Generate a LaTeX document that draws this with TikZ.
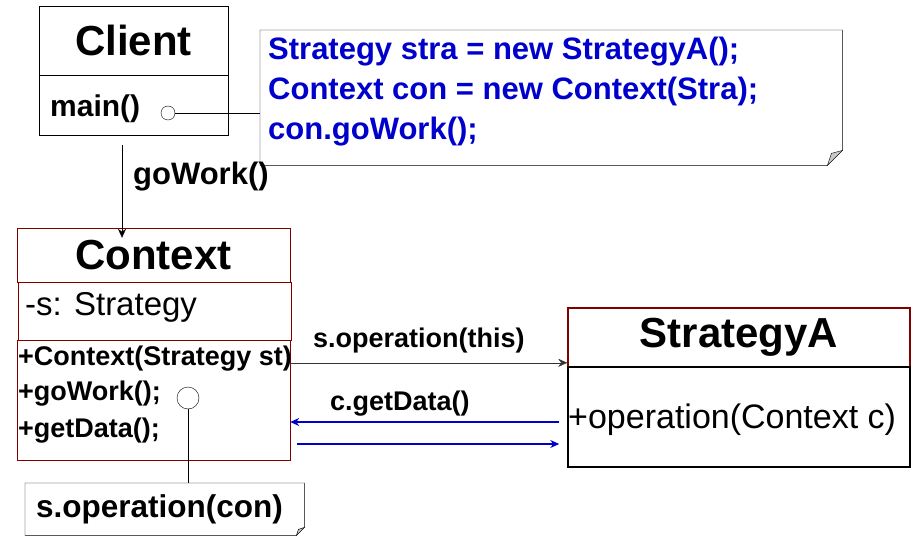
\documentclass[tikz,border=0pt]{standalone}
\usepackage{fontspec}
\setmainfont{Liberation Sans}
\usetikzlibrary{arrows.meta,positioning}
\definecolor{darkred}{RGB}{128,0,0}
\definecolor{codeblue}{RGB}{0,0,204}
\definecolor{foldgray}{RGB}{200,200,200}
\tikzset{
  umlbox/.style={draw,inner sep=0pt},
  titletxt/.style={font=\fontsize{42}{46}\selectfont\bfseries},
  membertxt/.style={anchor=base west,inner sep=0pt,font=\fontsize{27}{30}\selectfont\bfseries},
  codetxt/.style={anchor=base west,inner sep=0pt,text=codeblue,font=\fontsize{31}{34}\selectfont\bfseries},
  msgtxt/.style={anchor=base west,inner sep=0pt,font=\fontsize{27}{30}\selectfont\bfseries},
  notebox/.style={anchor=north west,inner sep=0pt},
  pin/.style={circle,draw,fill=white,inner sep=0pt}
}
\begin{document}
\begin{tikzpicture}[x=1pt,y=-1pt,>={Stealth[length=9pt,width=8pt]}]
  \useasboundingbox[fill=white] (0,0) rectangle (923,548);
  % Client
  \node[umlbox,titletxt,minimum width=189pt,minimum height=69pt] (client) at (133.5,40.5) {Client};
  \node[umlbox,minimum width=189pt,minimum height=60pt] (clientops) at (133.5,105) {};
  \node[membertxt,font=\fontsize{30}{32}\selectfont\bfseries] (main) at (50,117) {main()};
  \node[pin,minimum size=14pt] (mainpt) at (168,113) {};
  % code note
  \node[notebox,minimum width=582pt,minimum height=135pt] (code) at (260,30) {};
  \draw (code.north west) -- (code.north east) -- ([yshift=15pt]code.south east)
    -- ([xshift=-15pt]code.south east) -- (code.south west) -- cycle;
  \filldraw[fill=foldgray] ([yshift=15pt]code.south east) -- ([xshift=-15pt]code.south east)
    -- ([xshift=-11pt,yshift=12pt]code.south east) -- cycle;
  \node[codetxt] (code1) at (268,60) {Strategy stra = new StrategyA();};
  \node[codetxt] (code2) at (268,100) {Context con = new Context(Stra);};
  \node[codetxt] (code3) at (268,140) {con.goWork();};
  \draw (mainpt.east) -- (mainpt.east -| code.west);
  % Context
  \node[umlbox,titletxt,draw=darkred,minimum width=273pt,minimum height=54pt] (ctxname) at (153.5,255) {Context};
  \node[umlbox,draw=darkred,minimum width=273pt,minimum height=58pt] (ctxattr) at (154.5,311) {};
  \node[umlbox,draw=darkred,minimum width=273pt,minimum height=120pt] (ctxops) at (153.5,400) {};
  \node[membertxt,font=\fontsize{33}{36}\selectfont] (attr) at (25,315) {-s: Strategy};
  \node[membertxt] (m1) at (18,365) {+Context(Strategy st)};
  \node[membertxt] (m2) at (18,400) {+goWork();};
  \node[membertxt] (m3) at (18,437) {+getData();};
  \node[pin,minimum size=22pt] (ctxpt) at (188,398) {};
  \draw[->] ([xshift=-11.5pt,yshift=-10pt]clientops.south) -- ([xshift=-11.5pt,yshift=-10pt]clientops.south |- ctxname.north);
  \node[msgtxt,font=\fontsize{31}{34}\selectfont\bfseries] (gowork) at (133,185) {goWork()};
  % operation note
  \node[notebox,minimum width=279pt,minimum height=52pt] (opnote) at (25,483) {};
  \draw (opnote.north west) -- (opnote.north east) -- ([yshift=8pt]opnote.south east)
    -- ([xshift=-8pt]opnote.south east) -- (opnote.south west) -- cycle;
  \filldraw[fill=foldgray] ([yshift=8pt]opnote.south east) -- ([xshift=-8pt]opnote.south east)
    -- ([xshift=-6pt,yshift=6pt]opnote.south east) -- cycle;
  \node[msgtxt,font=\fontsize{31.5}{34}\selectfont\bfseries] (optxt) at (36,517) {s.operation(con)};
  \draw (ctxpt.south) -- (ctxpt.south |- opnote.north);
  % StrategyA
  \node[umlbox,titletxt,draw=darkred,line width=1.5pt,minimum width=342pt,minimum height=59pt] (saname) at (739,337.5) {StrategyA};
  \node[umlbox,line width=1.5pt,minimum width=342pt,minimum height=100pt] (saops) at (739,417) {};
  \node[membertxt,font=\fontsize{34}{36}\selectfont] (op) at (568,428) {+operation(Context c)};
  % messages
  \draw[->,black!80] ([yshift=-23pt]ctxops.north east) -- ([yshift=-23pt]ctxops.north east -| saname.west);
  \node[msgtxt] (opthis) at (313,347) {s.operation(this)};
  \draw[->,codeblue,line width=1.5pt] ([xshift=-8pt,yshift=-5pt]saops.west) -- ([yshift=-22pt]ctxops.east);
  \node[msgtxt] (getdata) at (330,410) {c.getData()};
  \draw[->,codeblue,line width=1.5pt] ([xshift=7pt,yshift=-44pt]ctxops.east) -- ([xshift=-8pt,yshift=-27pt]saops.west);
\end{tikzpicture}
\end{document}
